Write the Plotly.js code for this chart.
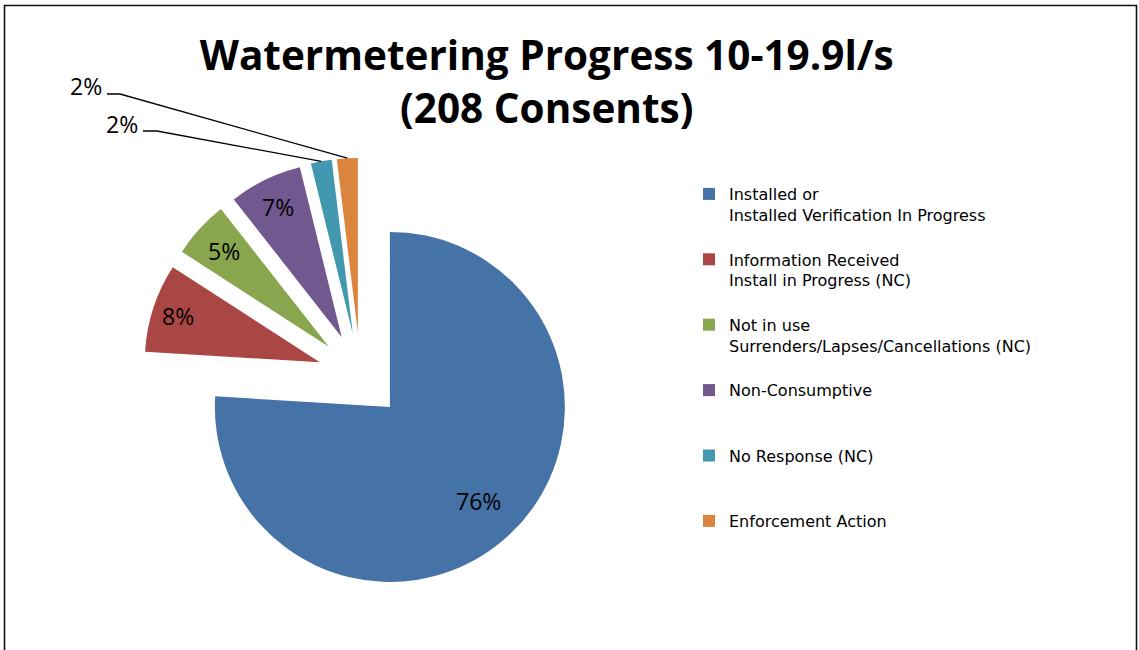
<!DOCTYPE html>
<html>
<head>
<meta charset="utf-8">
<script src="https://cdn.plot.ly/plotly-3.0.1.min.js"></script>
<style>
  html, body { margin: 0; padding: 0; background: #fff; }
  #chart { width: 1139px; height: 650px; }
</style>
</head>
<body>
<div id="chart"></div>
<script>
// ---- data ----
const categories = [
  'Installed or<br>Installed Verification In Progress<br>\u00a0',
  'Information Received<br>Install in Progress (NC)<br>\u00a0',
  'Not in use<br>Surrenders/Lapses/Cancellations (NC)<br>\u00a0',
  'Non-Consumptive<br>\u00a0<br>\u00a0',
  'No Response (NC)<br>\u00a0<br>\u00a0',
  'Enforcement Action<br>\u00a0<br>\u00a0'
];
const consents = [158, 17, 11, 14, 4, 4];
const sliceColors = ['#4572A7', '#AA4643', '#89A54E', '#71588F', '#4198AF', '#DB843D'];
const titleText = '<b>Watermetering Progress 10-19.9l/s<br>(208 Consents)</b>';
const calloutSlices = [5, 4];   // slices labelled outside with leader lines

// ---- layout / style constants ----
const W = 1139, H = 650;
const PULL = 0.245;
const domX = [0.1252, 0.5078];
const domY = [0.0868, 0.7572];
const FONT = '"Open Sans", Lato, sans-serif';
const LEGEND_FONT = '"DejaVu Sans", "Open Sans", sans-serif';
const LABEL_FONT = { family: FONT, size: 23, color: '#000' };
const labelRadius = [0.735, 0.85, 0.81, 0.83, 0, 0]; // fraction of radius for inside labels

const total = consents.reduce((a, b) => a + b, 0);

// pie geometry as Plotly computes it (margins are zero)
const boxW = W * (domX[1] - domX[0]);
const boxH = H * (domY[1] - domY[0]);
const R = Math.min(boxW, boxH) / (2 + 2 * PULL);
const CX = W * (domX[0] + domX[1]) / 2;
const CY = H * (1 - (domY[0] + domY[1]) / 2);

function midAngle(i) {
  let cum = 0;
  for (let k = 0; k < i; k++) cum += consents[k];
  return 2 * Math.PI * (cum + consents[i] / 2) / total;
}
// point along slice i's bisector, at distance f*R from the (pulled) apex
function slicePoint(i, f) {
  const a = midAngle(i);
  const d = R * (PULL + f);
  return [CX + d * Math.sin(a), CY - d * Math.cos(a)];
}
const px2x = x => x / W;
const px2y = y => 1 - y / H;
const pctText = i => Math.round(consents[i] / total * 100) + '%';

// callout anchor positions (text centre, line start, elbow) in pixels
const calloutAnchors = [
  { text: [86, 86], start: [107, 94], elbow: [120, 94] },
  { text: [122, 124], start: [143, 131], elbow: [157, 131] }
];

const shapes = [{
  type: 'rect', xref: 'paper', yref: 'paper',
  x0: px2x(4.5), x1: px2x(1136.5), y0: px2y(700), y1: px2y(5.5),
  line: { color: '#111', width: 1.6 }, fillcolor: 'rgba(0,0,0,0)'
}];
const annotations = [];

// inside labels
consents.forEach((v, i) => {
  if (calloutSlices.includes(i)) return;
  const p = slicePoint(i, labelRadius[i]);
  annotations.push({
    xref: 'paper', yref: 'paper', x: px2x(p[0]), y: px2y(p[1]),
    xanchor: 'center', yanchor: 'middle', showarrow: false,
    text: pctText(i), font: LABEL_FONT
  });
});

// callout labels with leader lines
calloutSlices.forEach((si, j) => {
  const an = calloutAnchors[j];
  const end = slicePoint(si, 1);
  shapes.push({
    type: 'path', xref: 'paper', yref: 'paper',
    path: 'M' + px2x(an.start[0]) + ',' + px2y(an.start[1]) +
          ' L' + px2x(an.elbow[0]) + ',' + px2y(an.elbow[1]) +
          ' L' + px2x(end[0]) + ',' + px2y(end[1]),
    line: { color: '#000', width: 1.3 }
  });
  annotations.push({
    xref: 'paper', yref: 'paper', x: px2x(an.text[0]), y: px2y(an.text[1]),
    xanchor: 'center', yanchor: 'middle', showarrow: false,
    text: pctText(si), font: LABEL_FONT
  });
});

const trace = {
  type: 'pie',
  labels: categories,
  values: consents,
  sort: false,
  direction: 'clockwise',
  rotation: 0,
  pull: consents.map(() => PULL),
  domain: { x: domX, y: domY },
  marker: { colors: sliceColors, line: { width: 0 } },
  textinfo: 'none',
  hoverinfo: 'none'
};

const layout = {
  width: W, height: H,
  margin: { l: 0, r: 0, t: 0, b: 0 },
  paper_bgcolor: '#fff',
  title: {
    text: titleText,
    font: { family: FONT, size: 40.5, color: '#000' },
    x: 0.48, xanchor: 'center', xref: 'paper',
    y: 1 - 70 / H, yanchor: 'top', yref: 'container'
  },
  showlegend: true,
  legend: {
    x: px2x(689), xanchor: 'left',
    y: px2y(177), yanchor: 'top',
    valign: 'top',
    font: { family: LEGEND_FONT, size: 16, color: '#000' },
    bgcolor: 'rgba(0,0,0,0)',
    traceorder: 'normal'
  },
  shapes: shapes,
  annotations: annotations
};

Plotly.newPlot('chart', [trace], layout, { staticPlot: true, displayModeBar: false });
</script>
</body>
</html>
